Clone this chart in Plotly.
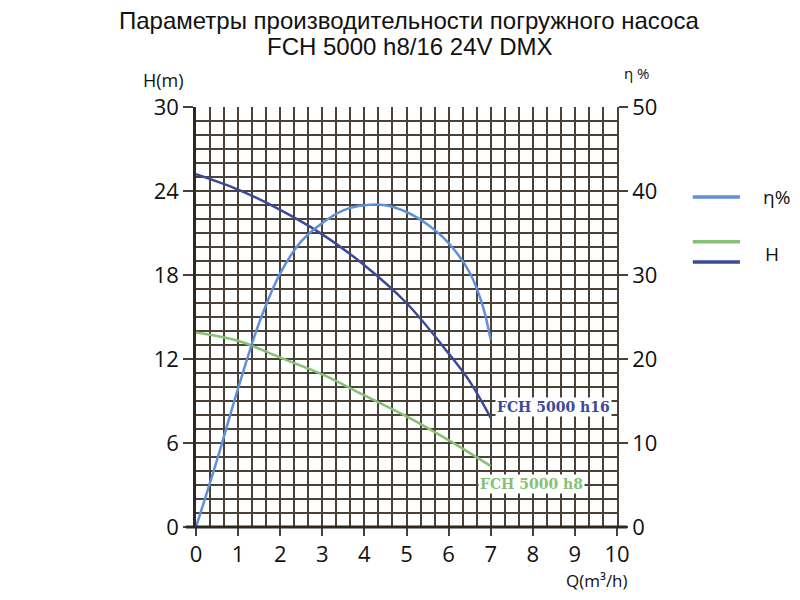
import plotly.graph_objects as go

# flow rate Q (m3/h) and head H (m) for the two pumps
q_h16 = [0, 1, 2, 3, 4, 5, 6, 6.5, 7]
h16 = [25.2, 24.1, 22.65, 20.9, 18.7, 16.0, 12.4, 10.4, 7.8]

q_h8 = [0, 1, 2, 3, 4, 5, 6, 7]
h8 = [13.9, 13.3, 12.1, 10.9, 9.4, 7.9, 6.2, 4.35]

# efficiency eta (%)
q_eta = [0, 0.5, 1, 1.5, 2, 2.5, 3, 3.5, 4, 4.5, 5, 5.5, 6, 6.5, 6.8, 7]
eta = [0, 8, 16.5, 24.3, 30.2, 34.0, 36.2, 37.7, 38.3, 38.3, 37.5, 36.0, 33.8, 30.3, 26.5, 22.3]

x_ticks = list(range(0, 11))
h_ticks = [0, 6, 12, 18, 24, 30]
eta_ticks = [0, 10, 20, 30, 40, 50]

c_eta = '#5f90d8'
c_h16 = '#3b4a97'
c_h8 = '#86c273'
grid = '#4a4238'
axis_c = '#2e2820'
txt = '#111111'
sans = 'Open Sans'
tickfont = dict(family=sans, size=22, color=txt)

# page has 8px body margin, so the figure is 792x592 and margins are shifted
margin = go.layout.Margin(l=188, r=183, t=99, b=73, pad=0)

data = [
    go.Scatter(x=q_h16, y=h16, mode='lines', line=dict(color=c_h16, width=2.5, shape='spline'), showlegend=False),
    go.Scatter(x=q_h8, y=h8, mode='lines', line=dict(color=c_h8, width=2.5, shape='spline'), showlegend=False),
    go.Scatter(x=q_eta, y=eta, mode='lines', yaxis='y2', line=dict(color=c_eta, width=2.5, shape='spline'), showlegend=False),
]

layout = go.Layout(
    width=792, height=592,
    margin=margin,
    paper_bgcolor='white',
    plot_bgcolor='white',
    showlegend=False,
    xaxis=dict(range=[0, 10], tickvals=x_ticks, ticks='outside', ticklen=8, tickwidth=2, tickcolor=grid,
               showgrid=True, gridcolor=grid, gridwidth=1.5,
               minor=dict(dtick=1/3, tick0=0, showgrid=True, gridcolor=grid, gridwidth=1.5, ticks=''),
               showline=False, zeroline=False,
               tickfont=tickfont, fixedrange=True),
    yaxis=dict(range=[0, 30], tickvals=h_ticks, ticks='outside', ticklen=10, tickwidth=2, tickcolor=grid,
               showgrid=True, gridcolor=grid, gridwidth=1.5,
               minor=dict(dtick=1, tick0=0, showgrid=True, gridcolor=grid, gridwidth=1.5, ticks=''),
               showline=True, linecolor=axis_c, linewidth=2.5, zeroline=False,
               tickfont=tickfont, fixedrange=True),
    yaxis2=dict(range=[0, 50], tickvals=eta_ticks, overlaying='y', side='right',
                ticks='outside', ticklen=9, tickwidth=2, tickcolor=grid,
                showgrid=False, showline=True, linecolor=grid, linewidth=1.5, zeroline=False,
                tickfont=tickfont, fixedrange=True),
)

fig = go.Figure(data=data, layout=layout)

# bottom axis line runs a bit past the grid on both sides
fig.add_shape(type='line', xref='paper', yref='paper', x0=-0.024, x1=1.024, y0=0, y1=0,
              line=dict(color=axis_c, width=3))


def note(text, x, y, size, family=sans, color=txt):
    fig.add_annotation(text=text, xref='paper', yref='paper', x=x, y=y, showarrow=False,
                       xanchor='center', yanchor='middle',
                       font=dict(family=family, size=size, color=color))


# title
note('Параметры производительности погружного насоса', 0.506, 1.207, 24, 'Liberation Sans')
note('FCH 5000 h8/16 24V DMX', 0.506, 1.143, 24, 'Liberation Sans')

# axis titles
note('H(m)', -0.078, 1.064, 18)
note('η %', 1.047, 1.081, 15)
note('Q(m³/h)', 0.952, -0.128, 17)

# curve labels
fig.add_annotation(text='<b>FCH 5000 h16</b>', x=8.48, y=8.57, showarrow=False, bgcolor='white',
                   xanchor='center', yanchor='middle',
                   font=dict(family='DejaVu Serif', size=14, color=c_h16))
fig.add_annotation(text='<b>FCH 5000 h8</b>', x=7.96, y=3.07, showarrow=False, bgcolor='white',
                   xanchor='center', yanchor='middle',
                   font=dict(family='DejaVu Serif', size=14, color=c_h8))

# hand made legend
for yy, col in [(0.786, c_eta), (0.679, c_h8), (0.631, c_h16)]:
    fig.add_shape(type='line', xref='paper', yref='paper', x0=1.18, x1=1.292, y0=yy, y1=yy,
                  line=dict(color=col, width=3.5))
note('η%', 1.38, 0.786, 19)
note('H', 1.368, 0.65, 19)

fig.write_html("out.html")
